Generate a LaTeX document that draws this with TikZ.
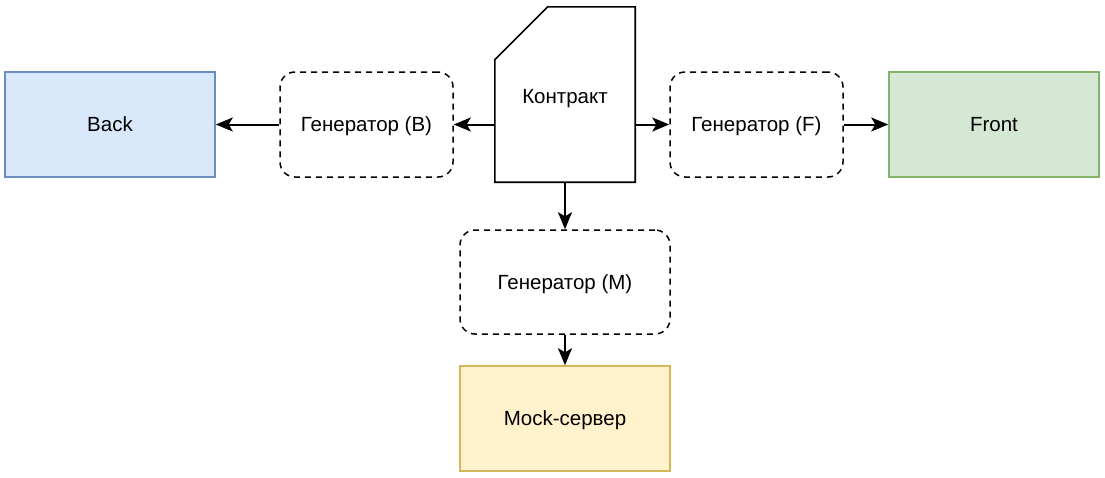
\documentclass[tikz,border=0pt]{standalone}
\usepackage{fontspec}
\setmainfont{Liberation Sans}
\usetikzlibrary{arrows.meta}
\definecolor{backfill}{HTML}{DAE8FC}
\definecolor{backdraw}{HTML}{6C8EBF}
\definecolor{frontfill}{HTML}{D5E8D4}
\definecolor{frontdraw}{HTML}{82B366}
\definecolor{mockfill}{HTML}{FFF2CC}
\definecolor{mockdraw}{HTML}{D6B656}
\begin{document}
\begin{tikzpicture}[x=1pt,y=-1pt,
  every node/.style={font=\fontsize{20.5}{24}\selectfont, inner sep=0pt, text depth=0pt},
  box/.style={rectangle, minimum width=210pt, minimum height=105pt, line width=1.5pt},
  genbox/.style={rectangle, rounded corners=15pt, draw=black, dash pattern=on 6pt off 5pt, line width=1.5pt},
  conn/.style={draw=black, line width=2pt, -{Stealth[length=17pt,width=14pt,inset=4pt]}}
]
\useasboundingbox (0,0) rectangle (1105,477);
\node[box, fill=backfill, draw=backdraw] (back) at (110,124.5) {Back};
\node[box, fill=frontfill, draw=frontdraw] (front) at (994,124.5) {Front};
\node[box, fill=mockfill, draw=mockdraw] (mock) at (565,418.5) {Mock-сервер};
\node[genbox, minimum width=173pt, minimum height=105pt] (genb) at (366.5,124.5) {Генератор (B)};
\node[genbox, minimum width=173pt, minimum height=105pt] (genf) at (756.5,124.5) {Генератор (F)};
\node[genbox, minimum width=210pt, minimum height=104pt] (genm) at (565,282) {Генератор (M)};
\node[minimum width=140pt, minimum height=175pt] (contract) at (565,94.5) {};
\node at (565,96) {Контракт};
\draw[line width=1.6pt, line join=miter] ([yshift=-53pt]contract.north west) -- ([xshift=53pt]contract.north west) -- (contract.north east) -- (contract.south east) -- (contract.south west) -- cycle;
\draw[conn] (contract.west |- genb.east) -- (genb.east);
\draw[conn] (genb.west) -- (back.east);
\draw[conn] (contract.east |- genf.west) -- (genf.west);
\draw[conn] (genf.east) -- (front.west);
\draw[conn] (contract.south) -- (genm.north);
\draw[conn] (genm.south) -- (mock.north);
\end{tikzpicture}
\end{document}
